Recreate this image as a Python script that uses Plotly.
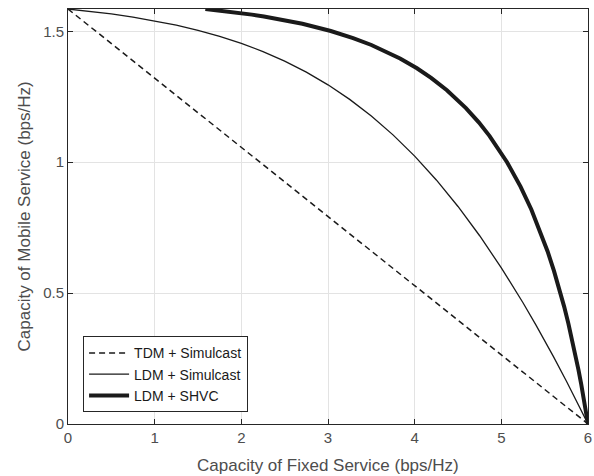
import plotly.graph_objects as go

# TDM + Simulcast
tdm_x = [0, 6]
tdm_y = [1.585, 0]

# LDM + Simulcast
ldm_sim_x = [0, 0.25, 0.5, 0.75, 1, 1.25, 1.5, 1.75, 2, 2.25, 2.5, 2.75, 3, 3.25,
             3.5, 3.75, 4, 4.25, 4.5, 4.75, 5, 5.1, 5.25, 5.4, 5.5, 5.6, 5.75,
             5.8, 5.9, 5.95, 6]
ldm_sim_y = [1.585, 1.5763, 1.5662, 1.5541, 1.5399, 1.5232, 1.5036, 1.4806, 1.4537,
             1.4224, 1.3860, 1.3440, 1.2954, 1.2398, 1.1763, 1.1043, 1.0231, 0.9321,
             0.8308, 0.7190, 0.5965, 0.5444, 0.4631, 0.3779, 0.3190, 0.2584, 0.1645,
             0.1324, 0.0670, 0.0337, 0]

# LDM + SHVC
ldm_shvc_x = [1.585, 1.7504, 1.9657, 2.1218, 2.2613, 2.5021, 2.7047, 3.0320, 3.2895,
              3.5006, 3.6785, 3.8315, 4.0264, 4.1898, 4.3722, 4.5919, 4.7400, 4.8650,
              5.0661, 5.2216, 5.3461, 5.4485, 5.5342, 5.6074, 5.6704, 5.7256, 5.7739,
              5.8170, 5.8554, 5.8902, 5.9215, 5.9500, 5.9761, 5.9883, 6]
ldm_shvc_y = [1.585, 1.5792, 1.5706, 1.5635, 1.5564, 1.5423, 1.5284, 1.5009, 1.4739,
              1.4475, 1.4215, 1.3959, 1.3585, 1.3219, 1.2746, 1.2065, 1.1520, 1.0995,
              1.0, 0.9069, 0.8194, 0.7370, 0.6590, 0.5850, 0.5146, 0.4475, 0.3833,
              0.3219, 0.2630, 0.2065, 0.1520, 0.0995, 0.0489, 0.0243, 0]

x_ticks = [0, 1, 2, 3, 4, 5, 6]
y_ticks = [0, 0.5, 1, 1.5]
y_tick_labels = ["0", "0.5", "1", "1.5"]

FONT = "Liberation Sans, Arial, sans-serif"
LINE = "#1a1a1a"

fig = go.Figure()
fig.add_trace(go.Scatter(x=tdm_x, y=tdm_y, mode="lines", name="TDM + Simulcast",
                         cliponaxis=False,
                         line=dict(color=LINE, width=1.5, dash="6px,4px")))
fig.add_trace(go.Scatter(x=ldm_sim_x, y=ldm_sim_y, mode="lines", name="LDM + Simulcast",
                         cliponaxis=False,
                         line=dict(color=LINE, width=1.3)))
fig.add_trace(go.Scatter(x=ldm_shvc_x, y=ldm_shvc_y, mode="lines", name="LDM + SHVC",
                         cliponaxis=False,
                         line=dict(color=LINE, width=4)))

axis_common = dict(
    showline=True, linecolor="#262626", linewidth=1, mirror="ticks",
    ticks="inside", ticklen=5, tickcolor="#262626",
    showgrid=True, gridcolor="#e3e3e3", gridwidth=1,
    zeroline=False, automargin=False,
    tickfont=dict(family=FONT, size=15, color="#4d4d4d"),
)

fig.update_layout(
    width=594, height=476,
    margin=dict(l=68, r=6, t=9, b=52, autoexpand=False),
    paper_bgcolor="white", plot_bgcolor="white",
    font=dict(family=FONT, size=14, color="#4d4d4d"),
    xaxis=dict(range=[0, 6], tickvals=x_ticks, **axis_common),
    yaxis=dict(range=[0, 1.585], tickvals=y_ticks, ticktext=y_tick_labels, **axis_common),
    legend=dict(x=0.029, y=0.028, xanchor="left", yanchor="bottom",
                bgcolor="white", bordercolor="#262626", borderwidth=1,
                font=dict(family=FONT, size=14, color="#1a1a1a"),
                tracegroupgap=0, itemwidth=40),
    showlegend=True,
    annotations=[
        dict(text="Capacity of Fixed Service (bps/Hz)", xref="paper", yref="paper",
             x=0.5, y=0, yshift=-41, xanchor="center", yanchor="middle",
             showarrow=False, font=dict(family=FONT, size=17, color="#4d4d4d")),
        dict(text="Capacity of Mobile Service (bps/Hz)", xref="paper", yref="paper",
             x=0, y=0.5, xshift=-44, xanchor="center", yanchor="middle",
             textangle=-90, showarrow=False,
             font=dict(family=FONT, size=17, color="#4d4d4d")),
    ],
)

fig.write_html(
    "out.html",
    config={"displayModeBar": False},
    post_script="document.body.style.margin='0';document.body.style.padding='0';"
                "document.body.style.overflow='hidden';",
)
